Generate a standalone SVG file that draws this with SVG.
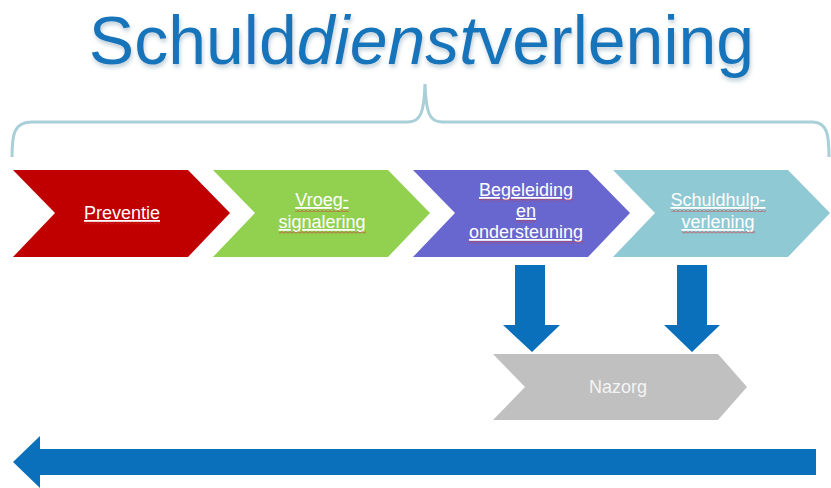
<svg xmlns="http://www.w3.org/2000/svg" width="831" height="488" viewBox="0 0 831 488">
<defs>
<filter id="sh" x="-5%" y="-20%" width="110%" height="150%">
<feDropShadow dx="1" dy="3" stdDeviation="2" flood-color="#7a9cb0" flood-opacity="0.5"/>
</filter>
<pattern id="wavy" patternUnits="userSpaceOnUse" width="4" height="3">
<path d="M0,2.5 L2,0.5 L4,2.5" fill="none" stroke="#d03030" stroke-width="0.8"/>
</pattern>
</defs>
<style>
.lbl{font-family:"Liberation Sans",Arial,sans-serif;font-size:18px;fill:#ffffff;text-anchor:middle;text-decoration:underline}
.wv{fill:url(#wavy)}
.blue{fill:#0a70bb}
</style>
<rect width="831" height="488" fill="#ffffff"/>
<text x="421.5" y="64" text-anchor="middle" font-family="'Liberation Sans',Arial,sans-serif" font-size="68" fill="#1975ba" filter="url(#sh)">Schuld<tspan font-style="italic">dienst</tspan>verlening</text>
<path id="brace" d="M12,157 C12,134 14,122 32,122 L408,122 C421,122 424,112 425,84 C426,112 429,122 442,122 L812,122 C827,122 829,134 829,157" fill="none" stroke="#a9cfd8" stroke-width="3"/>
<g id="preventie">
<polygon points="13,170 188,170 230,213 188,257 13,257 55,213" fill="#c00000"/>
<text class="lbl" x="122" y="219">Preventie</text>
<rect class="wv" x="84" y="222" width="76" height="3"/>
</g>
<g id="vroegsignalering">
<polygon points="213,170 388,170 430,213 388,257 213,257 255,213" fill="#92d050"/>
<text class="lbl" x="322" y="206">Vroeg-</text>
<text class="lbl" x="322" y="228">signalering</text>
<rect class="wv" x="295" y="209" width="54" height="3"/>
<rect class="wv" x="279" y="231" width="87" height="3"/>
</g>
<g id="begeleiding">
<polygon points="413,170 588,170 630,213 588,257 413,257 455,213" fill="#6767cf"/>
<text class="lbl" x="526" y="196">Begeleiding</text>
<text class="lbl" x="526" y="217">en</text>
<text class="lbl" x="526" y="238">ondersteuning</text>
<rect class="wv" x="479" y="199" width="94" height="3"/>
<rect class="wv" x="516" y="220" width="20" height="3"/>
<rect class="wv" x="468" y="241" width="116" height="3"/>
</g>
<g id="schuldhulpverlening">
<polygon points="613,170 788,170 830,213 788,257 613,257 655,213" fill="#8fc9d3"/>
<text class="lbl" x="718" y="206">Schuldhulp-</text>
<text class="lbl" x="718" y="228">verlening</text>
<rect class="wv" x="671" y="209" width="95" height="3"/>
<rect class="wv" x="682" y="231" width="73" height="3"/>
</g>
<g id="nazorg">
<polygon points="493,354 718,354 747,387 718,420 493,420 525,387" fill="#c0c0c0"/>
<text x="618" y="393" text-anchor="middle" font-family="'Liberation Sans',Arial,sans-serif" font-size="18" fill="#f4f4f4">Nazorg</text>
</g>
<g id="connectors">
<polygon class="blue" points="515,265 545,265 545,325 560,325 532,352 503,325 515,325"/>
<polygon class="blue" points="677,265 707,265 707,325 720,325 692,352 664,325 677,325"/>
<polygon class="blue" points="816,449 816,475 40,475 40,488 13,462 40,436 40,449"/>
</g>
</svg>
